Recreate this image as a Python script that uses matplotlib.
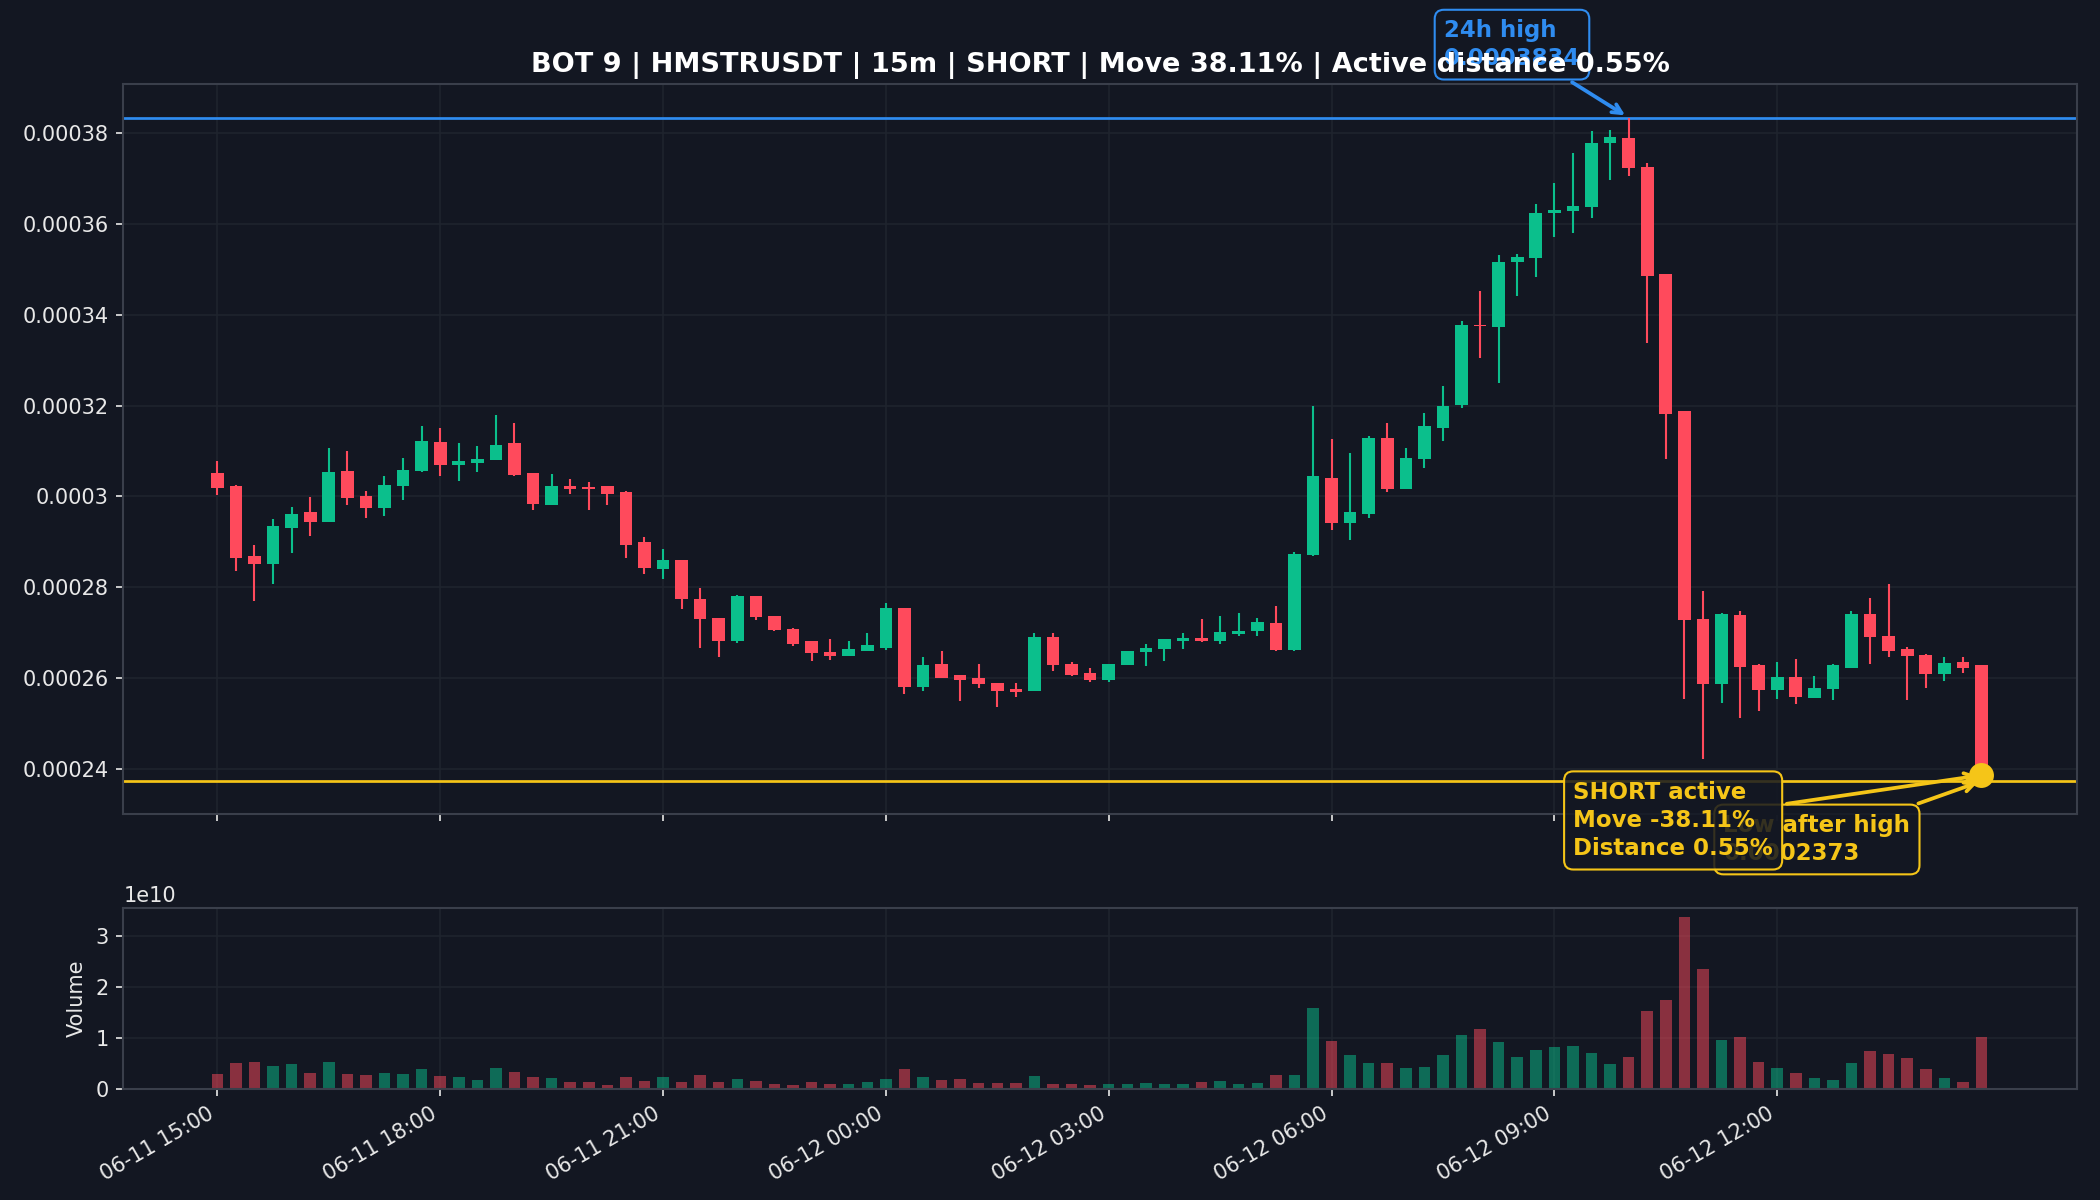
import numpy as np
import pandas as pd
import matplotlib
matplotlib.use("Agg")
import matplotlib.pyplot as plt
from matplotlib.ticker import FuncFormatter, FixedLocator

# ---------------- data ----------------
times = pd.date_range("2024-06-11 15:00", periods=96, freq="15min")
tick_labels = [t.strftime("%m-%d %H:%M") for t in times]

open_ = np.array([
    30.51, 30.23, 28.69, 28.50, 29.31, 29.65, 29.44, 30.55, 30.00, 29.75,
    30.23, 30.56, 31.19, 30.70, 30.74, 30.80, 31.17, 30.51, 29.81, 30.22,
    30.20, 30.22, 30.09, 28.99, 28.40, 28.59, 27.74, 27.32, 26.81, 27.81,
    27.37, 27.07, 26.82, 26.58, 26.48, 26.59, 26.67, 27.55, 25.80, 26.32,
    26.06, 26.01, 25.90, 25.75, 25.72, 26.91, 26.32, 26.11, 25.95, 26.28,
    26.58, 26.63, 26.82, 26.88, 26.81, 26.98, 27.03, 27.21, 26.61, 28.70,
    30.41, 29.42, 29.62, 31.29, 30.17, 30.82, 31.51, 32.01, 33.77, 33.72,
    35.16, 35.24, 36.24, 36.28, 36.36, 37.77, 37.88, 37.25, 34.89, 31.87,
    27.31, 25.87, 27.39, 26.28, 25.74, 26.03, 25.57, 25.76, 26.23, 27.42,
    26.93, 26.63, 26.50, 26.09, 26.36, 26.28]) * 1e-5
high = np.array([
    30.77, 30.24, 28.93, 29.50, 29.77, 29.99, 31.07, 31.00, 30.11, 30.44,
    30.85, 31.55, 31.50, 31.17, 31.10, 31.80, 31.61, 30.52, 30.49, 30.38,
    30.32, 30.22, 30.11, 29.10, 28.84, 28.59, 27.99, 27.32, 27.83, 27.81,
    27.37, 27.10, 26.82, 26.85, 26.82, 27.00, 27.66, 27.55, 26.47, 26.60,
    26.06, 26.32, 25.90, 25.88, 27.00, 27.00, 26.35, 26.22, 26.32, 26.60,
    26.75, 26.87, 27.00, 27.29, 27.36, 27.44, 27.33, 27.58, 28.77, 31.99,
    31.27, 30.96, 31.33, 31.61, 31.07, 31.83, 32.44, 33.85, 34.53, 35.31,
    35.34, 36.43, 36.89, 37.57, 38.05, 38.07, 38.34, 37.34, 34.89, 31.87,
    27.91, 27.43, 27.48, 26.31, 26.36, 26.41, 26.04, 26.31, 27.47, 27.77,
    28.07, 26.69, 26.53, 26.46, 26.46, 26.28]) * 1e-5
low = np.array([
    30.03, 28.35, 27.69, 28.06, 28.75, 29.13, 29.44, 29.81, 29.53, 29.57,
    29.92, 30.54, 30.45, 30.34, 30.54, 30.80, 30.45, 29.70, 29.80, 30.06,
    29.70, 29.81, 28.65, 28.28, 28.17, 27.53, 26.67, 26.47, 26.77, 27.27,
    27.03, 26.70, 26.37, 26.39, 26.48, 26.59, 26.62, 25.64, 25.71, 25.99,
    25.49, 25.79, 25.36, 25.58, 25.72, 26.16, 26.04, 25.91, 25.91, 26.28,
    26.27, 26.37, 26.63, 26.80, 26.76, 26.93, 26.93, 26.60, 26.60, 28.68,
    29.27, 29.04, 29.53, 30.10, 30.17, 30.63, 31.22, 31.94, 33.05, 32.50,
    34.41, 34.84, 35.70, 35.79, 36.12, 36.96, 37.06, 33.38, 30.82, 25.53,
    24.22, 25.44, 25.12, 25.27, 25.54, 25.42, 25.56, 25.52, 26.23, 26.32,
    26.46, 25.52, 25.77, 25.93, 26.12, 23.73]) * 1e-5
close = np.array([
    30.19, 28.65, 28.50, 29.35, 29.61, 29.44, 30.54, 29.97, 29.75, 30.26,
    30.57, 31.21, 30.69, 30.77, 30.83, 31.14, 30.46, 29.83, 30.22, 30.17,
    30.16, 30.06, 28.94, 28.42, 28.59, 27.73, 27.31, 26.82, 27.81, 27.34,
    27.05, 26.76, 26.55, 26.48, 26.63, 26.72, 27.54, 25.80, 26.29, 26.01,
    25.95, 25.87, 25.72, 25.70, 26.91, 26.29, 26.06, 25.96, 26.32, 26.60,
    26.67, 26.87, 26.89, 26.81, 27.01, 27.04, 27.23, 26.61, 28.73, 30.44,
    29.42, 29.65, 31.28, 30.17, 30.85, 31.55, 31.99, 33.77, 33.74, 35.16,
    35.26, 36.24, 36.31, 36.39, 37.78, 37.91, 37.23, 34.86, 31.82, 27.28,
    25.87, 27.40, 26.25, 25.74, 26.03, 25.59, 25.79, 26.28, 27.42, 26.90,
    26.60, 26.48, 26.09, 26.34, 26.23, 23.86]) * 1e-5
volume = np.array([
    0.30, 0.51, 0.53, 0.44, 0.48, 0.32, 0.53, 0.30, 0.28, 0.32,
    0.30, 0.38, 0.26, 0.24, 0.18, 0.40, 0.34, 0.24, 0.22, 0.14,
    0.14, 0.065, 0.24, 0.16, 0.24, 0.14, 0.28, 0.14, 0.20, 0.16,
    0.10, 0.065, 0.14, 0.10, 0.085, 0.14, 0.20, 0.38, 0.24, 0.18,
    0.20, 0.12, 0.12, 0.12, 0.26, 0.10, 0.085, 0.065, 0.085, 0.10,
    0.12, 0.10, 0.10, 0.14, 0.16, 0.10, 0.12, 0.28, 0.28, 1.59,
    0.95, 0.67, 0.51, 0.51, 0.40, 0.42, 0.67, 1.06, 1.18, 0.93,
    0.63, 0.77, 0.83, 0.85, 0.71, 0.48, 0.63, 1.53, 1.75, 3.39,
    2.35, 0.96, 1.02, 0.53, 0.40, 0.32, 0.22, 0.18, 0.51, 0.75,
    0.69, 0.61, 0.38, 0.22, 0.14, 1.02]) * 1e10

high_24h = 0.0003834
low_after_high = 0.0002373
high_idx = 76
title = "BOT 9 | HMSTRUSDT | 15m | SHORT | Move 38.11% | Active distance 0.55%"
label_high = "24h high\n0.0003834"
label_low = "Low after high\n0.0002373"
label_short = "SHORT active\nMove -38.11%\nDistance 0.55%"

# ---------------- style ----------------
BG = "#131722"
UP = "#0bbf8c"
DOWN = "#ff4a5c"
BLUE = "#2f8cf0"
YELLOW = "#f5c518"
GRID = "#1f242e"
SPINE = "#3a3f4b"
TXT = "#e8e8e8"
BOXFC = (0.075, 0.09, 0.133, 0.85)
ANN_FS = 11

fig = plt.figure(figsize=(14, 8), dpi=150, facecolor=BG)
ax = fig.add_axes([0.05867, 0.32142, 0.93052, 0.60825], facecolor=BG)
axv = fig.add_axes([0.05867, 0.09267, 0.93052, 0.15067], facecolor=BG, sharex=ax)

x = np.arange(len(open_))
up = close >= open_
colors = np.where(up, UP, DOWN)

ax.vlines(x, low, high, colors=colors, lw=1.0, zorder=2)
ax.bar(x, np.abs(close - open_), bottom=np.minimum(open_, close), width=0.68,
       color=colors, zorder=3)

ax.axhline(high_24h, color=BLUE, lw=1.3, zorder=1.5)
ax.axhline(low_after_high, color=YELLOW, lw=1.3, zorder=1.5)
ax.scatter([x[-1]], [close[-1]], s=120, color=YELLOW, zorder=6)

ax.set_xlim(-5.07, 100.16)
ax.set_ylim(0.00023, 0.0003907)
ax.yaxis.set_major_formatter(FuncFormatter(lambda v, p: f"{v:g}"))

common = dict(textcoords="offset points", ha="center", va="center", multialignment="left",
              fontsize=ANN_FS, fontweight="bold", linespacing=1.3)

ax.annotate(label_low, xy=(x[-1], low_after_high), xytext=(-79, -28),
            color=YELLOW, zorder=7,
            bbox=dict(boxstyle="round,pad=0.4", fc=BOXFC, ec=YELLOW, lw=1),
            arrowprops=dict(arrowstyle="->", color=YELLOW, lw=1.8), **common)
ax.annotate(label_short, xy=(x[-1], close[-1]), xytext=(-148, -21.7),
            color=YELLOW, zorder=8,
            bbox=dict(boxstyle="round,pad=0.4", fc=BOXFC, ec=YELLOW, lw=1),
            arrowprops=dict(arrowstyle="->", color=YELLOW, lw=1.8), **common)
ax.annotate(label_high, xy=(high_idx, high_24h), xytext=(-56, 35),
            color=BLUE, zorder=7,
            bbox=dict(boxstyle="round,pad=0.4", fc=BOXFC, ec=BLUE, lw=1),
            arrowprops=dict(arrowstyle="->", color=BLUE, lw=1.8), **common)

t = ax.set_title(title, color="white", fontsize=13, fontweight="bold")
t.set_zorder(20)

# volume
vcolors = np.where(up, UP, DOWN)
axv.bar(x, volume, width=0.62, color=vcolors, alpha=0.5)
axv.set_ylim(0, volume.max() * 1.05)
axv.set_ylabel("Volume", color=TXT, fontsize=10)

tick_pos = x[::12]
axv.xaxis.set_major_locator(FixedLocator(tick_pos))
axv.set_xticklabels([tick_labels[i] for i in tick_pos], rotation=30, ha="right")
plt.setp(ax.get_xticklabels(), visible=False)

for a in (ax, axv):
    a.grid(True, color=GRID, lw=0.8)
    a.set_axisbelow(True)
    for s in a.spines.values():
        s.set_color(SPINE)
        s.set_linewidth(1.0)
    a.tick_params(colors=TXT, labelsize=10)
axv.yaxis.get_offset_text().set_color(TXT)
axv.yaxis.get_offset_text().set_fontsize(10)

fig.savefig("out.png", dpi=150, facecolor=BG)
